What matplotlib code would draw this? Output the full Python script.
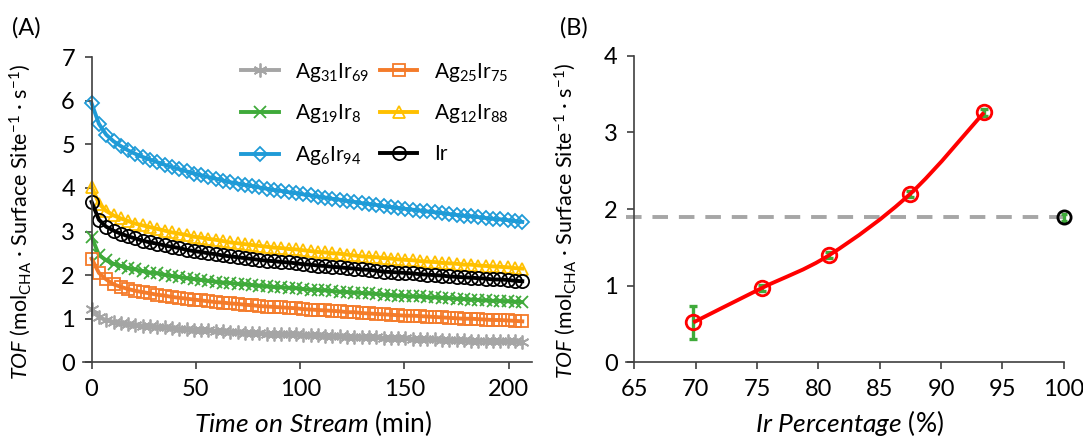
import numpy as np
import matplotlib
matplotlib.use("Agg")
import matplotlib.pyplot as plt
from matplotlib.path import Path
from matplotlib.patches import PathPatch

plt.rcParams['font.family'] = ['Lato', 'DejaVu Sans']
plt.rcParams['mathtext.fontset'] = 'custom'
plt.rcParams['mathtext.rm'] = 'Lato'
plt.rcParams['mathtext.it'] = 'Lato:italic'
plt.rcParams['mathtext.bf'] = 'Lato:bold'

# ---- panel A data: TOF vs time on stream (min) ----
time_min = [0, 3.5, 7, 10.5, 14, 17.5, 21, 24.5, 28, 31.5, 35, 38.5, 42, 45.5, 49,
            52.5, 56, 59.5, 63, 66.5, 70, 73.5, 77, 80.5, 84, 87.5, 91, 94.5, 98,
            101.5, 105, 108.5, 112, 115.5, 119, 122.5, 126, 129.5, 133, 136.5, 140,
            143.5, 147, 150.5, 154, 157.5, 161, 164.5, 168, 171.5, 175, 178.5, 182,
            185.5, 189, 192.5, 196, 199.5, 203, 206.5]

ag31ir69 = [1.22, 1.03, 0.97, 0.93, 0.91, 0.88, 0.86, 0.84, 0.83, 0.81, 0.80, 0.79,
            0.77, 0.76, 0.75, 0.74, 0.73, 0.72, 0.71, 0.70, 0.69, 0.68, 0.68, 0.67,
            0.66, 0.65, 0.65, 0.64, 0.64, 0.63, 0.62, 0.62, 0.61, 0.60, 0.60, 0.59,
            0.59, 0.58, 0.57, 0.57, 0.56, 0.56, 0.55, 0.55, 0.54, 0.54, 0.53, 0.53,
            0.52, 0.52, 0.51, 0.51, 0.50, 0.50, 0.49, 0.49, 0.49, 0.48, 0.48, 0.47]
ag25ir75 = [2.38, 2.05, 1.90, 1.79, 1.73, 1.68, 1.64, 1.61, 1.58, 1.55, 1.53, 1.50,
            1.48, 1.46, 1.44, 1.42, 1.40, 1.38, 1.37, 1.35, 1.34, 1.32, 1.31, 1.29,
            1.28, 1.27, 1.26, 1.25, 1.24, 1.22, 1.21, 1.20, 1.19, 1.18, 1.17, 1.15,
            1.15, 1.13, 1.12, 1.11, 1.10, 1.09, 1.08, 1.07, 1.07, 1.06, 1.05, 1.04,
            1.03, 1.02, 1.01, 1.00, 1.00, 0.99, 0.98, 0.97, 0.97, 0.96, 0.95, 0.94]
ag19ir8 = [2.88, 2.46, 2.34, 2.26, 2.21, 2.16, 2.13, 2.09, 2.06, 2.04, 2.01, 1.98,
           1.96, 1.93, 1.91, 1.89, 1.87, 1.85, 1.83, 1.82, 1.80, 1.79, 1.77, 1.76,
           1.74, 1.73, 1.72, 1.71, 1.70, 1.68, 1.67, 1.66, 1.65, 1.63, 1.62, 1.61,
           1.60, 1.59, 1.58, 1.57, 1.55, 1.54, 1.53, 1.52, 1.51, 1.51, 1.49, 1.49,
           1.48, 1.47, 1.46, 1.45, 1.44, 1.43, 1.42, 1.41, 1.41, 1.40, 1.39, 1.38]
ag12ir88 = [4.03, 3.64, 3.47, 3.37, 3.30, 3.24, 3.18, 3.14, 3.10, 3.06, 3.02, 2.98,
            2.95, 2.92, 2.88, 2.86, 2.83, 2.81, 2.78, 2.75, 2.73, 2.71, 2.69, 2.67,
            2.65, 2.63, 2.62, 2.60, 2.59, 2.57, 2.55, 2.53, 2.52, 2.50, 2.49, 2.47,
            2.45, 2.43, 2.42, 2.41, 2.39, 2.38, 2.36, 2.35, 2.34, 2.32, 2.31, 2.30,
            2.28, 2.27, 2.26, 2.24, 2.24, 2.22, 2.21, 2.20, 2.19, 2.18, 2.16, 2.15]
ag6ir94 = [5.94, 5.47, 5.22, 5.07, 4.96, 4.86, 4.78, 4.71, 4.65, 4.59, 4.53, 4.48,
           4.43, 4.38, 4.33, 4.29, 4.25, 4.21, 4.17, 4.13, 4.10, 4.07, 4.04, 4.01,
           3.98, 3.95, 3.93, 3.90, 3.88, 3.85, 3.83, 3.80, 3.78, 3.75, 3.73, 3.70,
           3.68, 3.65, 3.63, 3.61, 3.58, 3.56, 3.54, 3.52, 3.50, 3.48, 3.46, 3.44,
           3.42, 3.40, 3.38, 3.36, 3.35, 3.33, 3.31, 3.29, 3.28, 3.26, 3.24, 3.22]
ir_pure = [3.68, 3.27, 3.11, 3.02, 2.95, 2.89, 2.84, 2.79, 2.75, 2.72, 2.68, 2.65,
           2.62, 2.58, 2.55, 2.53, 2.50, 2.48, 2.45, 2.43, 2.41, 2.39, 2.37, 2.35,
           2.33, 2.32, 2.30, 2.29, 2.27, 2.25, 2.24, 2.22, 2.21, 2.19, 2.18, 2.16,
           2.15, 2.13, 2.12, 2.10, 2.08, 2.07, 2.06, 2.05, 2.04, 2.02, 2.01, 2.00,
           1.99, 1.97, 1.96, 1.95, 1.94, 1.93, 1.92, 1.90, 1.90, 1.89, 1.87, 1.86]

# ---- panel B data: TOF vs Ir percentage ----
ir_pct = [69.8, 75.4, 80.9, 87.5, 93.5]
tof_alloy = [0.52, 0.97, 1.40, 2.20, 3.26]
tof_alloy_err = [0.21, 0.04, 0.04, 0.04, 0.05]
ir_only_pct = [100]
ir_only_tof = [1.89]
ir_only_err = [0.05]

TOF_LABEL = r'$\mathit{TOF}$ (mol$_{\mathrm{CHA}}$ · Surface Site$^{\mathrm{-1}}$ · s$^{\mathrm{-1}}$)'

fig = plt.figure(figsize=(10.83, 4.37), dpi=100)

# ---------------- panel A ----------------
ax1 = fig.add_axes([0.0769, 0.1709, 0.4140, 0.6984])
series = [
    (ag31ir69, '#A5A5A5', (6, 2, 0), 10, r'Ag$_{31}$Ir$_{69}$'),
    (ag19ir8, '#3FAA3A', 'x', 9, r'Ag$_{19}$Ir$_{8}$'),
    (ag6ir94, '#1F9BD7', 'D', 7.5, r'Ag$_{6}$Ir$_{94}$'),
    (ag25ir75, '#F47B2A', 's', 8.5, r'Ag$_{25}$Ir$_{75}$'),
    (ag12ir88, '#FFC000', '^', 9, r'Ag$_{12}$Ir$_{88}$'),
    (ir_pure, '#000000', 'o', 9.5, 'Ir'),
]
handles = []
for vals, col, mk, ms, lab in series:
    ln, = ax1.plot(time_min, vals, color=col, lw=2.8, marker=mk, ms=ms,
                   mfc='none', mec=col, mew=1.3, clip_on=False, label=lab)
    handles.append(ln)

ax1.set_xlim(-4, 211)
ax1.set_ylim(0, 7)
ax1.spines['left'].set_position(('data', 0))
ax1.spines['top'].set_visible(False)
ax1.spines['right'].set_visible(False)
for sp in ('left', 'bottom'):
    ax1.spines[sp].set_color('#404040')
    ax1.spines[sp].set_linewidth(1.2)
ax1.set_xticks([0, 50, 100, 150, 200])
ax1.set_yticks(range(8))
ax1.tick_params(direction='out', length=5, width=1.2, color='#404040',
                labelsize=17, pad=7)
ax1.set_xlabel(r'$\mathit{Time\ on\ Stream}$ (min)', fontsize=19)
ax1.xaxis.set_label_coords(0.513, -0.15)
ax1.set_ylabel(TOF_LABEL, fontsize=15.5)
ax1.yaxis.set_label_coords(-0.112, 0.46)

ax1.legend(handles=handles, ncol=2, loc='upper left', bbox_to_anchor=(0.31, 1.05),
           frameon=False, fontsize=15, handlelength=1.8, handletextpad=0.8,
           columnspacing=0.5, labelspacing=0.9, numpoints=1)

# ---------------- panel B ----------------
ax2 = fig.add_axes([0.5784, 0.1709, 0.4038, 0.7016])
ax2.axhline(ir_only_tof[0], color='#A6A6A6', lw=2.8, ls=(0, (4, 2.8)), zorder=1)
ax2.errorbar(ir_pct, tof_alloy, yerr=tof_alloy_err, fmt='none', ecolor='#3FAA3A',
             elinewidth=2.4, capsize=3, capthick=2.4, zorder=2)
ax2.errorbar(ir_only_pct, ir_only_tof, yerr=ir_only_err, fmt='none', ecolor='#3FAA3A',
             elinewidth=2.4, capsize=2, capthick=2.4, zorder=2, clip_on=False)

# smooth red curve through the alloy points (Bezier, Catmull-Rom tangents)
pts = np.column_stack([ir_pct, tof_alloy])
verts = [pts[0]]
codes = [Path.MOVETO]
for i in range(len(pts) - 1):
    p0 = pts[max(i - 1, 0)]
    p1 = pts[i]
    p2 = pts[i + 1]
    p3 = pts[min(i + 2, len(pts) - 1)]
    verts += [p1 + (p2 - p0) / 6.0, p2 - (p3 - p1) / 6.0, p2]
    codes += [Path.CURVE4] * 3
ax2.add_patch(PathPatch(Path(verts, codes), fc='none', ec='#FF0000', lw=2.8, zorder=3))
ax2.plot(ir_pct, tof_alloy, ls='none', marker='o', ms=10.5, mfc='none',
         mec='#FF0000', mew=2, zorder=4)
ax2.plot(ir_only_pct, ir_only_tof, ls='none', marker='o', ms=9.5, mfc='none',
         mec='#000000', mew=2, zorder=4, clip_on=False)

ax2.set_xlim(64.35, 100)
ax2.set_ylim(0, 4)
ax2.spines['left'].set_position(('data', 65))
ax2.spines['top'].set_visible(False)
ax2.spines['right'].set_visible(False)
for sp in ('left', 'bottom'):
    ax2.spines[sp].set_color('#404040')
    ax2.spines[sp].set_linewidth(1.2)
ax2.set_xticks(range(65, 101, 5))
ax2.set_yticks(range(5))
ax2.tick_params(direction='out', length=5, width=1.2, color='#404040',
                labelsize=17, pad=7)
ax2.set_xlabel(r'$\mathit{Ir\ Percentage}$ (%)', fontsize=19)
ax2.xaxis.set_label_coords(0.509, -0.15)
ax2.set_ylabel(TOF_LABEL, fontsize=15.5)
ax2.yaxis.set_label_coords(-0.111, 0.46)

fig.text(0.011, 0.96, '(A)', fontsize=17, va='top')
fig.text(0.517, 0.96, '(B)', fontsize=17, va='top')

fig.savefig('out.png', dpi=100)
